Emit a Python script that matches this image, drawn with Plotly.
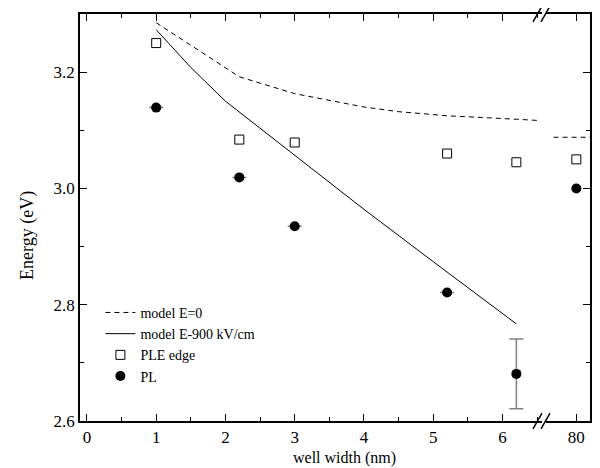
import plotly.graph_objects as go

# ---- data ----
ple_w = [1, 2.2, 3, 5.2, 6.2]
ple_e = [3.25, 3.084, 3.079, 3.06, 3.045]
pl_w = [1, 2.2, 3, 5.2, 6.2]
pl_e = [3.139, 3.019, 2.935, 2.821, 2.681]
pl_err = [None, None, None, None, 0.06]

wide_w = [80]
ple_wide_e = [3.05]
pl_wide_e = [3.0]

model_e0_w = [1, 2.2, 3, 4, 4.5, 5.2, 6.2, 6.5]
model_e0_e = [3.285, 3.192, 3.163, 3.140, 3.132, 3.125, 3.119, 3.117]
model_e0_wide_w = [77.0, 81.8]
model_e0_wide_e = [3.088, 3.088]

model_e900_w = [1, 1.5, 2, 3, 4, 5, 6.2]
model_e900_e = [3.273, 3.208, 3.15, 3.057, 2.964, 2.874, 2.767]

x_ticks = [0, 1, 2, 3, 4, 5, 6]
x_wide_ticks = [80]
y_ticks = [2.6, 2.8, 3.0, 3.2]

FONT = "Liberation Serif, Times New Roman, serif"

# page body adds an 8px margin; plot area target: left 80, right 590, top 12, bottom 421
W, H = 592, 460
L, R, T, B = 72, 10, 4, 47
PW, PH = W - L - R, H - T - B  # 510 x 409
OX, OY = 8 + L, 8 + T          # page pixel of plot-area top-left


def px_to_paper_x(px):
    return (px - OX) / PW


def px_to_paper_y(py):
    return 1 - (py - OY) / PH


fig = go.Figure()
fig.add_trace(go.Scatter(x=model_e0_w, y=model_e0_e, mode="lines", name="model E=0",
                         line=dict(color="black", width=1, dash="5px,4px")))
fig.add_trace(go.Scatter(x=model_e900_w, y=model_e900_e, mode="lines", name="model E-900 kV/cm",
                         line=dict(color="black", width=1)))
fig.add_trace(go.Scatter(x=ple_w, y=ple_e, mode="markers", name="PLE edge",
                         marker=dict(symbol="square-open", size=9, color="black", line=dict(width=1))))
fig.add_trace(go.Scatter(x=pl_w, y=pl_e, mode="markers", name="PL",
                         marker=dict(symbol="circle", size=10, color="black"),
                         error_y=dict(type="data", array=pl_err, visible=True, color="gray",
                                      thickness=1.5, width=7)))
# wide-well (80 nm) section
fig.add_trace(go.Scatter(x=model_e0_wide_w, y=model_e0_wide_e, mode="lines", showlegend=False,
                         line=dict(color="black", width=1, dash="5px,4px"), xaxis="x2", yaxis="y2"))
fig.add_trace(go.Scatter(x=wide_w, y=ple_wide_e, mode="markers", showlegend=False,
                         marker=dict(symbol="square-open", size=9, color="black", line=dict(width=1)),
                         xaxis="x2", yaxis="y2"))
fig.add_trace(go.Scatter(x=wide_w, y=pl_wide_e, mode="markers", showlegend=False,
                         marker=dict(symbol="circle", size=10, color="black"),
                         xaxis="x2", yaxis="y2"))

d1 = px_to_paper_x(542)
d2 = px_to_paper_x(546)
common = dict(showline=True, linecolor="black", linewidth=1.5, ticks="inside",
              tickcolor="black", showgrid=False, zeroline=False,
              tickfont=dict(family=FONT, size=17, color="black"))

fig.update_layout(
    width=W, height=H,
    margin=dict(l=L, r=R, t=T, b=B),
    plot_bgcolor="white", paper_bgcolor="white",
    font=dict(family=FONT, size=15, color="black"),
    xaxis=dict(domain=[0, d1], range=[-0.1, 6.57], tickvals=x_ticks, ticklen=7,
               mirror="ticks", minor=dict(dtick=0.5, tick0=0, ticklen=4, ticks="inside", tickcolor="black"),
               anchor="y", **common),
    xaxis2=dict(domain=[d2, 1], range=[76.0, 81.8], tickvals=x_wide_ticks, ticklen=7,
                mirror="ticks", anchor="y2", **common),
    yaxis=dict(range=[2.6, 3.3], tickvals=y_ticks, tickformat=".1f", ticklen=7,
               minor=dict(dtick=0.1, tick0=2.6, ticklen=4, ticks="inside", tickcolor="black"),
               anchor="x", **common),
    yaxis2=dict(range=[2.6, 3.3], tickvals=y_ticks, ticklen=7, side="right", showticklabels=False,
                minor=dict(dtick=0.1, tick0=2.6, ticklen=4, ticks="inside", tickcolor="black"),
                anchor="x2", **common),
    legend=dict(x=0.04, y=0.305, xanchor="left", yanchor="top", bgcolor="rgba(0,0,0,0)",
                font=dict(family=FONT, size=14), tracegroupgap=0),
    showlegend=True,
)

# axis titles
fig.add_annotation(text="well width (nm)", xref="paper", yref="paper",
                   x=px_to_paper_x(344), y=px_to_paper_y(458), showarrow=False,
                   xanchor="center", yanchor="middle", font=dict(family=FONT, size=16))
fig.add_annotation(text="Energy (eV)", xref="paper", yref="paper", textangle=-90,
                   x=px_to_paper_x(28), y=px_to_paper_y(235), showarrow=False,
                   xanchor="center", yanchor="middle", font=dict(family=FONT, size=18))

# axis break marks
for yb in (12, 421):
    for x0 in (533, 541):
        fig.add_shape(type="line", xref="paper", yref="paper",
                      x0=px_to_paper_x(x0), x1=px_to_paper_x(x0 + 9),
                      y0=px_to_paper_y(yb + 8), y1=px_to_paper_y(yb - 8),
                      line=dict(color="black", width=1.5))

fig.write_html("out.html")
